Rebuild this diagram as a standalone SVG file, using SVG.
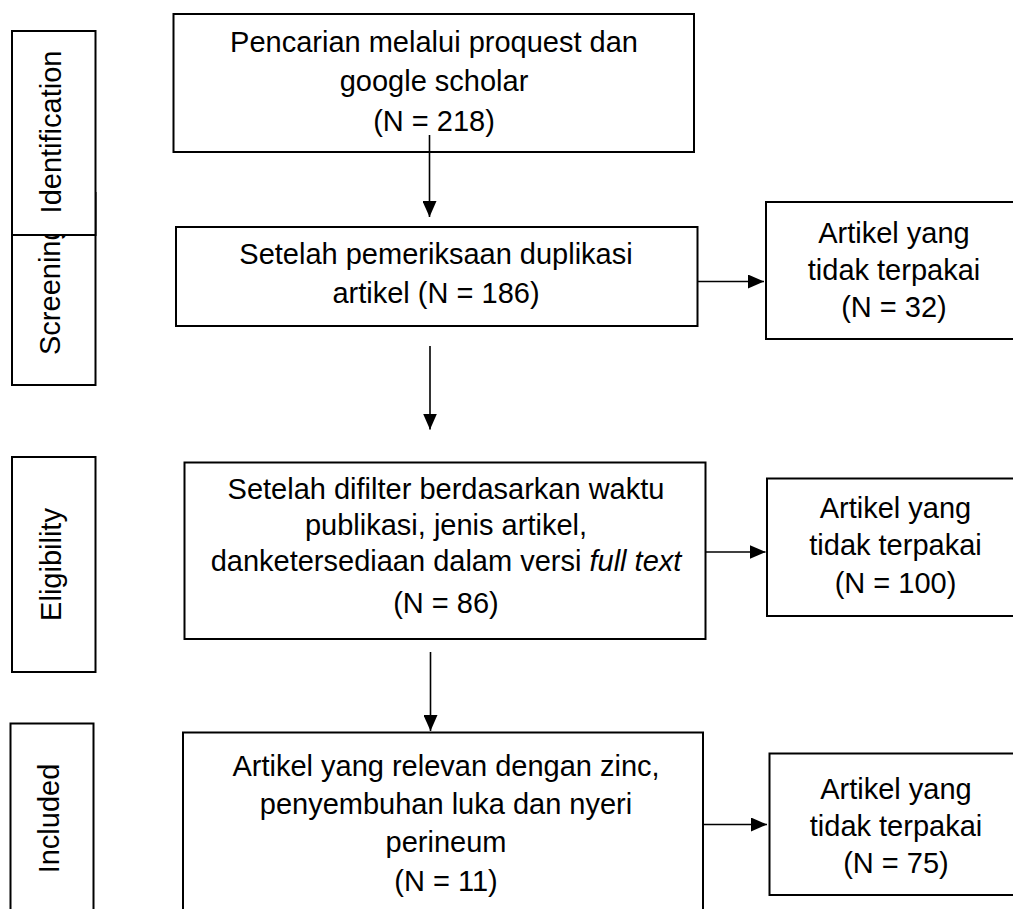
<svg xmlns="http://www.w3.org/2000/svg" width="1013" height="909" viewBox="0 0 1013 909">
  <style>
    .box { fill: #fff; stroke: #000; stroke-width: 2; }
    .t { font-family: "Liberation Sans", Arial, sans-serif; font-size: 29px; fill: #000; text-anchor: middle; }
    .c { stroke: #000; stroke-width: 1.6; fill: none; marker-end: url(#ah); }
  </style>
  <defs>
    <marker id="ah" markerUnits="userSpaceOnUse" markerWidth="16" markerHeight="14" refX="16" refY="7" orient="auto">
      <path d="M0,0 L16,7 L0,14 z" fill="#000"/>
    </marker>
  </defs>
  <rect width="1013" height="909" fill="#fff"/>

  <!-- Stage labels -->
  <g id="stage-screening">
    <rect class="box" x="12" y="193" width="83.5" height="192"/>
    <text class="t" style="text-anchor:start" transform="translate(60,355) rotate(-90)">Screening</text>
  </g>
  <g id="stage-identification">
    <rect class="box" x="12" y="31" width="83.5" height="204"/>
    <text class="t" transform="translate(60.5,132) rotate(-90)">Identification</text>
  </g>
  <g id="stage-eligibility">
    <rect class="box" x="12" y="457" width="83.5" height="215"/>
    <text class="t" transform="translate(60.5,564.5) rotate(-90)">Eligibility</text>
  </g>
  <g id="stage-included">
    <rect class="box" x="10.5" y="723.5" width="83" height="200"/>
    <text class="t" transform="translate(58.5,818.5) rotate(-90)">Included</text>
  </g>

  <!-- Main flow boxes -->
  <g id="n-search">
    <rect class="box" x="173.5" y="14" width="520.5" height="138"/>
    <text class="t" x="434" y="52">Pencarian melalui proquest dan</text>
    <text class="t" x="434" y="91">google scholar</text>
    <text class="t" x="434" y="131">(N = 218)</text>
  </g>
  <g id="n-dedup">
    <rect class="box" x="176" y="227" width="521.5" height="99"/>
    <text class="t" x="436" y="263.5">Setelah pemeriksaan duplikasi</text>
    <text class="t" x="436" y="302.5">artikel (N = 186)</text>
  </g>
  <g id="n-excl1">
    <rect class="box" x="766" y="202" width="258" height="137"/>
    <text class="t" x="894" y="243">Artikel yang</text>
    <text class="t" x="894" y="280">tidak terpakai</text>
    <text class="t" x="894" y="317">(N = 32)</text>
  </g>
  <g id="n-filter">
    <rect class="box" x="184.5" y="462.5" width="521" height="176.5"/>
    <text class="t" x="446" y="499">Setelah difilter berdasarkan waktu</text>
    <text class="t" x="446" y="535">publikasi, jenis artikel,</text>
    <text class="t" x="446" y="570.5">danketersediaan dalam versi <tspan font-style="italic">full text</tspan></text>
    <text class="t" x="446" y="613">(N = 86)</text>
  </g>
  <g id="n-excl2">
    <rect class="box" x="767" y="478.5" width="258" height="137.5"/>
    <text class="t" x="895.5" y="518">Artikel yang</text>
    <text class="t" x="895.5" y="555">tidak terpakai</text>
    <text class="t" x="895.5" y="593">(N = 100)</text>
  </g>
  <g id="n-included">
    <rect class="box" x="183" y="732.5" width="520" height="190"/>
    <text class="t" x="446" y="776">Artikel yang relevan dengan zinc,</text>
    <text class="t" x="446" y="814">penyembuhan luka dan nyeri</text>
    <text class="t" x="446" y="852">perineum</text>
    <text class="t" x="446" y="891">(N = 11)</text>
  </g>
  <g id="n-excl3">
    <rect class="box" x="769.5" y="753.5" width="258" height="141.5"/>
    <text class="t" x="896" y="799">Artikel yang</text>
    <text class="t" x="896" y="836">tidak terpakai</text>
    <text class="t" x="896" y="873">(N = 75)</text>
  </g>

  <!-- Connectors -->
  <g id="connectors">
    <line class="c" x1="429.5" y1="135" x2="429.5" y2="217"/>
    <line class="c" x1="430" y1="346" x2="430" y2="429.5"/>
    <line class="c" x1="430.5" y1="652" x2="430.5" y2="731"/>
    <line class="c" x1="697.5" y1="281.5" x2="764" y2="281.5"/>
    <line class="c" x1="705.5" y1="552" x2="765.5" y2="552"/>
    <line class="c" x1="703" y1="824.5" x2="767" y2="824.5"/>
  </g>
</svg>
